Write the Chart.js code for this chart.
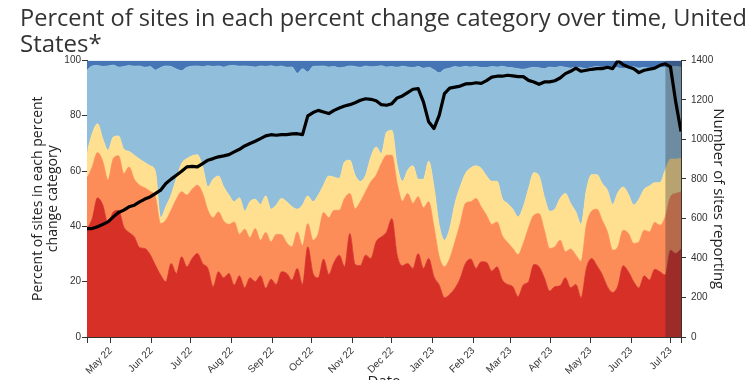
<!DOCTYPE html>
<html><head><meta charset="utf-8">
<script src="https://cdn.jsdelivr.net/npm/chart.js@4.4.1/dist/chart.umd.min.js"></script>
<style>
html,body{margin:0;padding:0;background:#fff;overflow:hidden;width:747px;height:380px}
#wrap{position:relative;width:747px;height:400px}
</style>
</head><body>
<div id="wrap"><canvas id="c" width="747" height="400"></canvas></div>
<script>
// ---- sampling grid (one sample every 4 days) ----
const startDate = '2022-04-13';
const endDate = '2023-07-09';
const stepDays = 4;
const provisionalFrom = '2023-06-27';   // shaded (incomplete) period

// ---- x tick labels ----
const monthTickDates = ['2022-05-01','2022-06-01','2022-07-01','2022-08-01','2022-09-01','2022-10-01','2022-11-01','2022-12-01','2023-01-01','2023-02-01','2023-03-01','2023-04-01','2023-05-01','2023-06-01','2023-07-01'];
const monthTickLabels = ['May 22','Jun 22','Jul 22','Aug 22','Sep 22','Oct 22','Nov 22','Dec 22','Jan 23','Feb 23','Mar 23','Apr 23','May 23','Jun 23','Jul 23'];

// ---- cumulative percent of sites (top edge of each band) ----
const redTop = [39.2,42.8,50.3,47.7,41.0,45.2,45.8,39.8,37.8,36.2,32.3,32.0,29.8,26.0,22.4,20.0,26.6,23.0,29.0,25.4,28.4,30.2,26.6,24.8,18.2,23.6,21.4,23.0,18.8,22.1,17.8,21.4,20.0,22.1,17.6,20.9,19.0,23.6,
23.0,20.6,24.8,19.0,32.6,23.0,21.4,28.2,22.6,27.0,29.6,25.4,37.4,26.2,25.8,29.6,28.4,34.4,36.2,38.0,42.8,29.6,25.8,26.6,24.8,30.2,24.8,28.4,21.8,18.8,14.2,15.4,17.6,21.2,26.6,28.2,24.8,27.2,
27.0,23.8,25.4,20.6,19.0,18.2,14.6,18.8,20.0,26.2,25.4,21.4,16.6,18.2,18.5,21.4,17.8,19.0,14.2,24.8,28.4,25.8,22.6,18.2,16.1,18.5,25.8,23.6,20.0,17.8,22.1,20.6,24.5,23.6,22.4,31.4,30.2,31.8];
const orangeTop = [57.3,61.5,66.7,63.5,56.7,64.5,65.5,59.1,61.5,57.0,54.9,53.9,52.7,50.7,41.0,42.2,45.8,49.8,52.5,51.3,53.4,54.9,51.9,45.8,43.1,45.2,41.9,40.7,41.6,37.1,39.0,35.9,39.2,35.0,37.8,34.4,37.1,37.0,
34.0,32.6,38.0,33.0,41.0,35.0,37.4,45.0,43.1,45.8,45.8,50.1,51.9,46.4,48.9,52.5,56.1,58.5,62.7,65.7,65.7,55.5,49.1,51.9,48.3,50.7,46.7,48.9,39.8,29.0,25.4,28.4,34.4,41.0,48.3,48.9,50.1,47.0,
44.0,40.7,41.6,36.6,34.2,32.0,29.8,33.8,39.5,44.0,44.6,38.6,32.0,32.6,35.0,30.8,31.8,29.6,27.4,40.4,45.5,46.2,42.2,38.0,31.4,32.6,38.6,37.4,33.8,34.4,38.6,38.0,41.4,40.4,43.4,50.7,51.9,52.5];
const yellowTop = [66.7,73.5,77.1,71.7,67.5,72.3,72.7,67.9,67.1,65.7,64.3,63.1,61.9,59.9,43.1,47.1,51.3,57.3,62.7,64.5,65.5,65.9,61.5,54.3,57.0,58.2,54.3,51.3,48.9,50.3,45.5,48.9,49.8,47.9,51.0,46.2,47.7,50.1,
48.9,47.1,46.2,47.7,51.0,48.9,51.3,54.9,58.2,57.8,57.3,63.3,63.9,58.5,56.3,58.5,65.1,68.7,66.3,74.1,74.7,62.1,56.3,60.3,61.9,57.0,57.0,63.5,54.3,40.4,35.0,39.2,48.3,54.3,59.1,61.1,61.9,60.9,
58.2,56.3,56.3,50.1,48.3,46.2,43.4,47.1,53.7,59.4,58.2,50.7,45.5,46.2,50.1,51.9,48.3,45.2,40.7,53.1,58.7,58.7,55.5,53.1,47.9,52.2,54.2,51.5,47.7,49.8,53.4,54.6,55.8,55.8,60.3,64.3,64.3,64.5];
const lightBlueTop = [96.5,98.0,98.2,97.8,98.0,98.3,97.6,97.8,98.2,97.9,98.0,97.5,97.8,96.5,97.4,98.0,97.8,96.9,96.3,97.5,97.9,98.0,97.7,98.1,97.8,98.0,97.6,98.1,98.2,97.9,98.0,97.8,97.6,98.0,97.8,98.1,97.7,98.0,
97.5,97.6,95.3,97.0,95.8,97.8,97.9,98.0,97.6,97.8,97.3,97.6,98.0,97.8,97.5,98.0,97.7,97.8,98.1,97.6,97.8,97.5,97.9,97.6,97.4,97.8,97.2,97.5,96.6,95.5,96.8,97.2,97.8,97.5,97.9,97.6,97.8,97.4,
97.4,97.8,97.6,97.9,97.5,97.3,97.0,96.8,97.2,97.5,97.3,97.0,97.6,97.4,97.8,97.5,97.2,97.6,97.3,97.0,97.5,97.8,97.4,97.1,97.6,97.3,97.0,97.4,97.7,97.2,97.5,97.1,97.6,97.3,97.5,97.6,97.8,97.5];

// ---- number of sites reporting ----
const sitesReporting = [549,549,558,570,583,608,630,642,659,667,684,698,709,726,743,777,799,819,839,861,864,861,878,895,903,912,917,923,937,950,967,979,991,1004,1018,1024,1021,1024,
1024,1028,1029,1024,1119,1136,1147,1139,1131,1147,1159,1169,1176,1186,1198,1206,1203,1196,1176,1173,1181,1210,1220,1237,1254,1257,1190,1089,1055,1122,1232,1260,1265,1270,1281,1282,1287,1284,
1298,1315,1320,1320,1325,1322,1318,1318,1299,1291,1279,1291,1291,1297,1311,1333,1345,1361,1345,1350,1355,1358,1358,1365,1358,1399,1378,1367,1358,1338,1350,1355,1361,1375,1383,1367,1190,1040];

// ---- helpers ----
const DAY = 86400000;
const t0 = Date.parse(startDate + 'T00:00:00Z');
const dayOf = iso => Math.round((Date.parse(iso + 'T00:00:00Z') - t0) / DAY);
const sampleDays = redTop.map((_, i) => i * stepDays);
const lastDay = dayOf(endDate);
const provDay = dayOf(provisionalFrom);
const provisionalShade = sampleDays.map(d => d >= provDay ? 100 : null);
const tickDays = monthTickDates.map(dayOf);
const tickLabelByDay = {};
tickDays.forEach((d, i) => tickLabelByDay[d] = monthTickLabels[i]);

const COLORS = {red:'#d73027', orange:'#fc8d59', yellow:'#fee090', lightBlue:'#91bfdb', darkBlue:'#4575b4'};
const area = (data, color, fill, order) => ({
  data, fill, order, backgroundColor: color, borderColor: color, borderWidth: 0.8,
  pointRadius: 0, cubicInterpolationMode: 'monotone', yAxisID: 'y'
});

const tickFont = {family: 'Liberation Sans, Arial, sans-serif', size: 10};
const axisColor = '#333';

new Chart(document.getElementById('c'), {
  type: 'line',
  data: {
    labels: sampleDays,
    datasets: [
      area(redTop, COLORS.red, 'origin', 2),
      area(orangeTop, COLORS.orange, '-1', 3),
      area(yellowTop, COLORS.yellow, '-1', 4),
      area(lightBlueTop, COLORS.lightBlue, '-1', 5),
      Object.assign(area(lightBlueTop, COLORS.darkBlue, 'end', 6), {borderWidth: 0}),
      {data: sitesReporting, yAxisID: 'y1', borderColor: '#000', borderWidth: 3.2, pointRadius: 0,
       fill: false, tension: 0, borderJoinStyle: 'round', order: 0},
      {data: provisionalShade, yAxisID: 'y', fill: 'origin', backgroundColor: 'rgba(35,35,45,0.32)',
       borderWidth: 0, pointRadius: 0, order: 1, spanGaps: false}
    ]
  },
  options: {
    responsive: false, animation: false, devicePixelRatio: 1,
    layout: {padding: {left: 20, right: 0, top: 0, bottom: 0}},
    plugins: {
      legend: {display: false}, tooltip: {enabled: false},
      title: {display: true, align: 'start', color: '#333',
        text: ['Percent of sites in each percent change category over time, United', 'States*'],
        font: {family: 'Open Sans', size: 24, weight: 'normal', lineHeight: 1.05},
        padding: {top: 7, bottom: 3}}
    },
    scales: {
      x: {type: 'linear', min: 0, max: lastDay,
        afterBuildTicks: s => { s.ticks = [0].concat(tickDays, [lastDay]).map(v => ({value: v})); },
        afterFit: s => { s.height = 63; },
        ticks: {autoSkip: false, minRotation: 45, maxRotation: 45, font: tickFont, color: axisColor, padding: 2,
          callback: v => tickLabelByDay[v] || ''},
        grid: {drawOnChartArea: false, drawTicks: true, tickLength: 6, color: axisColor},
        border: {display: true, color: axisColor},
        title: {display: true, text: 'Date', color: '#222', font: {family: 'Open Sans', size: 15}, padding: {top: 0, bottom: 9}}
      },
      y: {position: 'left', min: 0, max: 100,
        afterFit: s => { s.width = 67; },
        ticks: {stepSize: 20, font: tickFont, color: axisColor, padding: 1},
        grid: {drawOnChartArea: false, drawTicks: true, tickLength: 5, color: axisColor},
        border: {display: true, color: axisColor},
        title: {display: true, text: ['Percent of sites in each percent', 'change category'], color: '#222',
          font: {family: 'Open Sans', size: 14, lineHeight: 1.1}, padding: {top: 10, bottom: 0}}
      },
      y1: {position: 'right', min: 0, max: 1400,
        afterFit: s => { s.width = 66; },
        ticks: {stepSize: 200, font: tickFont, color: axisColor, padding: 5, callback: v => String(v)},
        grid: {drawOnChartArea: false, drawTicks: true, tickLength: 5, color: axisColor},
        border: {display: true, color: axisColor},
        title: {display: true, text: 'Number of sites reporting', color: '#222',
          font: {family: 'Open Sans', size: 15, lineHeight: 1.1}, padding: {top: 20, bottom: 0}}
      }
    }
  }
});
</script>
</body></html>
